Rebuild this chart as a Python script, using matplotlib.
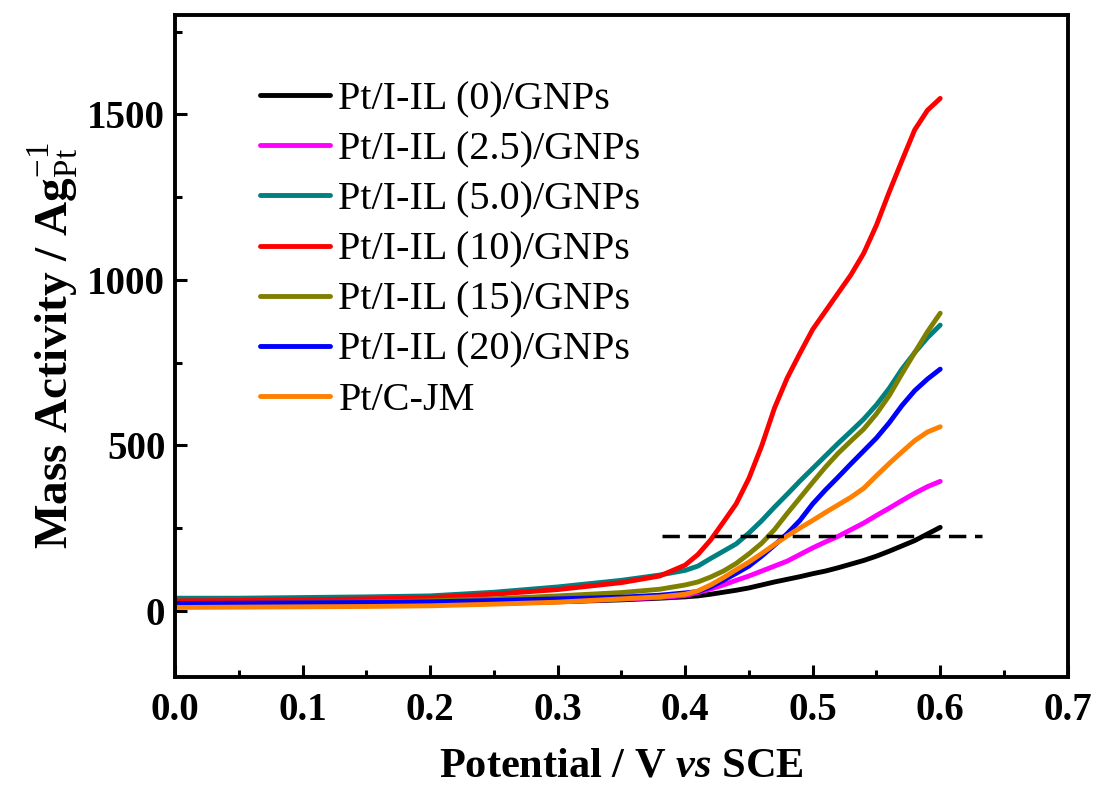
import matplotlib
matplotlib.use('Agg')
import matplotlib.pyplot as plt
from matplotlib.ticker import MultipleLocator

plt.rcParams['font.family'] = 'Liberation Serif'
plt.rcParams['mathtext.fontset'] = 'custom'
plt.rcParams['mathtext.rm'] = 'Liberation Serif'
plt.rcParams['mathtext.it'] = 'Liberation Serif:italic'
plt.rcParams['mathtext.bf'] = 'Liberation Serif:bold'
plt.rcParams['mathtext.bfit'] = 'Liberation Serif:bold:italic'

# 数据
labels = ['Pt/I-IL (0)/GNPs', 'Pt/I-IL (2.5)/GNPs', 'Pt/I-IL (5.0)/GNPs',
          'Pt/I-IL (10)/GNPs', 'Pt/I-IL (15)/GNPs', 'Pt/I-IL (20)/GNPs', 'Pt/C-JM']
colors = ['#000000', '#ff00ff', '#008080', '#ff0000', '#808000', '#0000ff', '#ff8000']

x_pts = [0.0, 0.05, 0.10, 0.15, 0.20, 0.25, 0.30, 0.35, 0.38, 0.40, 0.41, 0.42, 0.43, 0.44,
         0.45, 0.46, 0.47, 0.48, 0.49, 0.50, 0.51, 0.52, 0.53, 0.54, 0.55, 0.56, 0.57,
         0.58, 0.59, 0.60]

y_black = [14, 15, 16, 17, 19, 22, 27, 33, 38, 42, 45, 50, 56, 62,
           69, 78, 87, 95, 103, 112, 120, 130, 141, 152, 165, 180, 196,
           212, 232, 252]
y_magenta = [15, 16, 17, 18, 20, 23, 28, 35, 40, 46, 55, 66, 78, 92,
             105, 120, 135, 150, 170, 190, 208, 225, 245, 265, 288, 310, 333,
             355, 375, 391]
y_teal = [38, 38, 40, 42, 45, 56, 72, 92, 108, 122, 135, 158, 180, 202,
          235, 272, 313, 352, 392, 430, 468, 506, 542, 579, 622, 672, 730,
          780, 825, 863]
y_red = [30, 31, 33, 36, 40, 50, 64, 85, 105, 138, 170, 214, 268, 323,
         400, 498, 612, 703, 778, 850, 905, 960, 1015, 1080, 1165, 1265, 1360,
         1453, 1512, 1548]
y_olive = [20, 22, 24, 26, 30, 36, 45, 55, 65, 78, 87, 102, 120, 143,
           172, 204, 245, 294, 341, 388, 434, 476, 513, 549, 595, 650, 716,
           780, 843, 899]
y_blue = [22, 23, 24, 25, 27, 31, 36, 41, 47, 54, 58, 72, 92, 113,
          135, 165, 198, 233, 273, 323, 365, 404, 444, 483, 522, 568, 620,
          665, 700, 730]
y_orange = [10, 11, 12, 13, 15, 20, 26, 36, 42, 50, 60, 78, 100, 124,
            147, 173, 200, 226, 250, 273, 297, 320, 343, 370, 408, 445, 480,
            514, 540, 556]
series = [y_black, y_magenta, y_teal, y_red, y_olive, y_blue, y_orange]

dash_x = [0.382, 0.633]
dash_y = [225, 225]

fig = plt.figure(figsize=(10.94, 7.87), dpi=100)
ax = fig.add_axes([0.16, 0.1398, 0.816, 0.8412])

for ys, c, lab in zip(series, colors, labels):
    ax.plot(x_pts, ys, color=c, lw=3.5, label=lab, solid_capstyle='round')
ax.plot(dash_x, dash_y, color='black', lw=2.5, linestyle=(0, (5, 2.5)))

ax.set_xlim(0, 0.7)
ax.set_ylim(-200, 1800)
ax.xaxis.set_major_locator(MultipleLocator(0.1))
ax.xaxis.set_minor_locator(MultipleLocator(0.05))
ax.yaxis.set_major_locator(MultipleLocator(500))
ax.yaxis.set_minor_locator(MultipleLocator(250))
ax.tick_params(which='both', direction='in', top=False, right=False, width=2.2)
ax.tick_params(which='major', length=8.5)
ax.tick_params(which='minor', length=5)
ax.tick_params(axis='x', pad=11)
ax.tick_params(axis='y', pad=7)
ax.set_xticks([0.0, 0.1, 0.2, 0.3, 0.4, 0.5, 0.6, 0.7])
ax.set_xticklabels(['0.0', '0.1', '0.2', '0.3', '0.4', '0.5', '0.6', '0.7'])
for lb in ax.get_xticklabels() + ax.get_yticklabels():
    lb.set_fontweight('bold')
    lb.set_fontsize(28)
for sp in ax.spines.values():
    sp.set_linewidth(2.8)

ax.set_xlabel(r'Potential / V $\mathbfit{vs}$ SCE', fontsize=30.5, fontweight='bold', labelpad=13)
ax.set_ylabel(r'Mass Activity / Ag$_{\mathrm{Pt}}^{\mathrm{-1}}$', fontsize=34,
              fontweight='bold', labelpad=5)

leg = ax.legend(loc='upper left', bbox_to_anchor=(0.095, 0.90), frameon=False,
                fontsize=29, handlelength=1.75, handletextpad=0.2, labelspacing=0.32,
                borderpad=0, borderaxespad=0)
for ln in leg.get_lines():
    ln.set_linewidth(3.5)

plt.savefig('out.png', dpi=100)
